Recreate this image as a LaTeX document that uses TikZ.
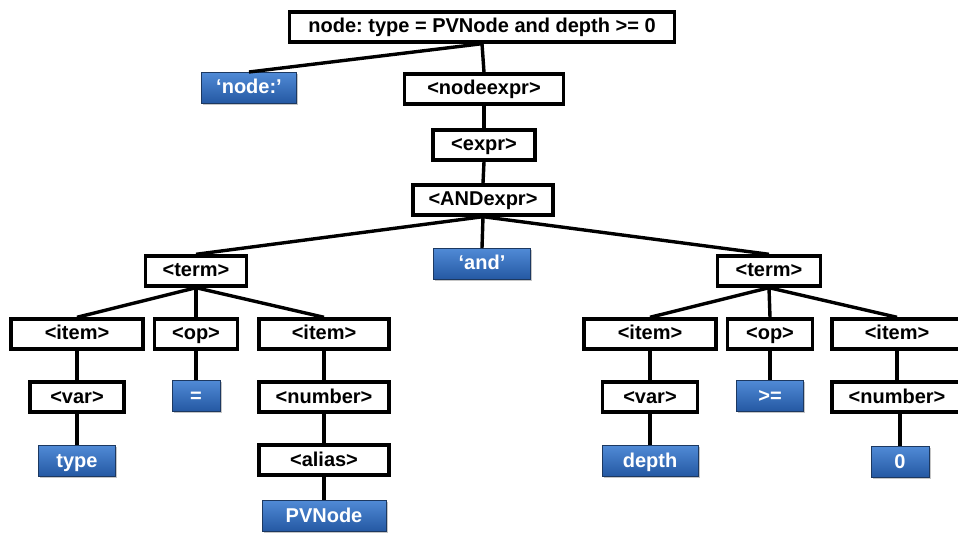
\documentclass[tikz,border=0pt]{standalone}
\usepackage{fontspec}
\setmainfont{Liberation Sans}
\usetikzlibrary{shadows}
\definecolor{leaftop}{RGB}{80,138,214}
\definecolor{leafbottom}{RGB}{36,88,162}
\definecolor{leafedge}{RGB}{28,56,96}
\frenchspacing

\begin{document}
\begin{tikzpicture}[
    x=1pt, y=-1pt,
    every node/.style={font=\bfseries\fontsize{20}{24}\selectfont, text height=16pt, text depth=4pt},
    rule/.style={draw, line width=3.4pt, fill=white, inner sep=0pt, minimum height=30pt},
    leaf/.style={draw=leafedge, line width=1pt, top color=leaftop, bottom color=leafbottom,
        text=white, inner sep=0pt, minimum height=31pt,
        drop shadow={shadow xshift=1.5pt, shadow yshift=-1.5pt, opacity=0.45}},
    branch/.style={line width=3.4pt}
]
\useasboundingbox (0,0) rectangle (958,534);

% Root and spine
\node[rule, minimum width=385pt] (root) at (482,27) {node: type = PVNode and depth >= 0};
\node[leaf, minimum width=95pt] (kwnode) at (249,88) {‘node:’};
\node[rule, minimum width=159pt] (nodeexpr) at (484,89) {<nodeexpr>};
\node[rule, minimum width=102pt] (expr) at (484,145) {<expr>};
\node[rule, minimum width=140pt] (andexpr) at (483,200) {<ANDexpr>};

% Terms
\node[rule, minimum width=101pt] (termL) at (196,271) {<term>};
\node[leaf, minimum width=97pt] (kwand) at (482,264) {‘and’};
\node[rule, minimum width=103pt] (termR) at (769,271) {<term>};

% Left term
\node[rule, minimum width=132pt] (itemLa) at (77,334) {<item>};
\node[rule, minimum width=83pt] (opL) at (196,334) {<op>};
\node[rule, minimum width=130pt] (itemLb) at (324,334) {<item>};
\node[rule, minimum width=94pt] (varL) at (77,397) {<var>};
\node[leaf, minimum width=48pt] (eq) at (196,396) {=};
\node[rule, minimum width=130pt] (numL) at (324,397) {<number>};
\node[leaf, minimum width=77pt] (type) at (77,461) {type};
\node[rule, minimum width=130pt] (alias) at (324,460) {<alias>};
\node[leaf, minimum width=124pt] (pvnode) at (324,516) {PVNode};

% Right term
\node[rule, minimum width=132pt] (itemRa) at (650,334) {<item>};
\node[rule, minimum width=85pt] (opR) at (770,334) {<op>};
\node[rule, minimum width=130pt] (itemRb) at (897,334) {<item>};
\node[rule, minimum width=95pt] (varR) at (650,397) {<var>};
\node[leaf, minimum width=67pt] (geq) at (770,396) {>=};
\node[rule, minimum width=130pt] (numR) at (897,397) {<number>};
\node[leaf, minimum width=96pt] (depth) at (650,461) {depth};
\node[leaf, minimum width=58pt] (zero) at (900,462) {0};

% Branches
\foreach \a/\b in {root/kwnode, root/nodeexpr, nodeexpr/expr, expr/andexpr,
    andexpr/termL, andexpr/kwand, andexpr/termR,
    termL/itemLa, termL/opL, termL/itemLb, itemLa/varL, opL/eq, itemLb/numL,
    varL/type, numL/alias, alias/pvnode,
    termR/itemRa, termR/opR, termR/itemRb, itemRa/varR, opR/geq, itemRb/numR,
    varR/depth}
    \draw[branch] (\a.south) -- (\b.north);
\draw[branch] (numR.south -| zero.north) -- (zero.north);

\end{tikzpicture}
\end{document}
